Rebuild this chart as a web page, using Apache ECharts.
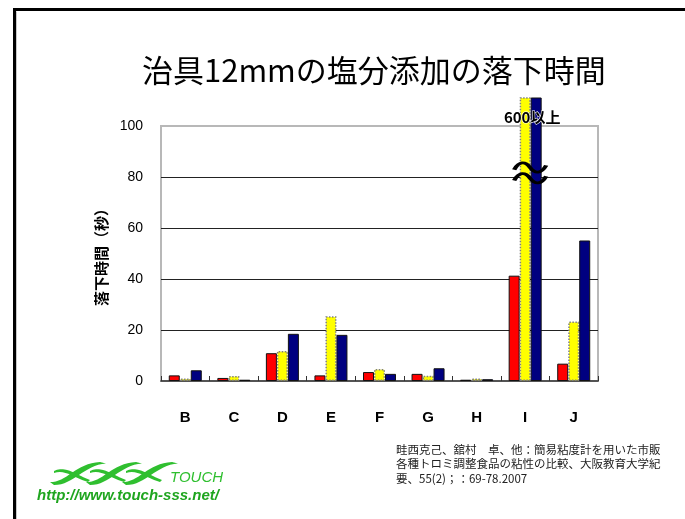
<!DOCTYPE html>
<html>
<head>
<meta charset="utf-8">
<script src="https://cdn.jsdelivr.net/npm/echarts@6/dist/echarts.min.js"></script>
<style>
  html, body { margin: 0; padding: 0; background: #fff; }
  #chart { width: 685px; height: 519px; }
</style>
</head>
<body>
<div id="chart"></div>
<script>
// Categories and measured drop times (seconds)
const categories = ['B', 'C', 'D', 'E', 'F', 'G', 'H', 'I', 'J'];
const redValues = [2.2, 1.2, 10.9, 2.2, 3.5, 2.8, 0.5, 41.3, 6.8];
const yellowValues = [1.0, 2.0, 11.8, 25.4, 4.7, 2.1, 1.0, 600, 23.3];
const navyValues = [4.2, 0.5, 18.5, 18.1, 2.8, 5.0, 0.7, 600, 55.1];
const yTicks = [0, 20, 40, 60, 80, 100];
const overflowLabel = '600以上';
const breakValue = 81.6;
const overflowLabelValue = 103.3;

const titleText = '治具12mmの塩分添加の落下時間';
const yAxisName = '落下時間（秒）';
const citationLines = [
  '畦西克己、舘村　卓、他：簡易粘度計を用いた市販',
  '各種トロミ調整食品の粘性の比較、大阪教育大学紀',
  '要、55(2)；：69-78.2007'
];
const siteUrl = 'http://www.touch-sss.net/';

const JP = '"Noto Sans CJK JP", "Liberation Sans", sans-serif';

// Plot geometry: the visible axis frame, plus a taller drawing area so tall bars rise above it
const plotLeft = 161, plotWidth = 437, plotTop = 126, plotBottom = 381, barTop = 98;
const yMax = yTicks[yTicks.length - 1];
const barAxisMax = yMax * (plotBottom - barTop) / (plotBottom - plotTop);

const chart = echarts.init(document.getElementById('chart'), null, { renderer: 'canvas' });

const barBase = { type: 'bar', xAxisIndex: 1, yAxisIndex: 1, barWidth: 11, barGap: '0%', clip: true };

// Cubic bezier sampled into polygon points
function cubic(p0, p1, p2, p3, n) {
  const pts = [];
  for (let i = 0; i <= n; i++) {
    const t = i / n, u = 1 - t;
    pts.push([
      u * u * u * p0[0] + 3 * u * u * t * p1[0] + 3 * u * t * t * p2[0] + t * t * t * p3[0],
      u * u * u * p0[1] + 3 * u * u * t * p1[1] + 3 * u * t * t * p2[1] + t * t * t * p3[1]
    ]);
  }
  return pts;
}

// Small logo swooshes
const logoGreen = '#2fbf2f';
const swooshes = [];
for (let i = 0; i < 3; i++) {
  const x0 = 50 + i * 36;
  const upper = cubic([x0, 482], [x0 + 16, 483], [x0 + 26, 463], [x0 + 50, 462], 16)
    .concat(cubic([x0 + 56, 463.5], [x0 + 34, 465], [x0 + 24, 485], [x0 + 4, 485], 16));
  swooshes.push({ type: 'polygon', shape: { points: upper }, style: { fill: logoGreen } });
  const lower = cubic([x0 + 4, 471], [x0 + 16, 465], [x0 + 28, 476], [x0 + 40, 480], 12)
    .concat(cubic([x0 + 38, 482], [x0 + 26, 479], [x0 + 16, 469], [x0 + 4, 473], 12));
  swooshes.push({ type: 'polygon', shape: { points: lower }, style: { fill: logoGreen } });
}

const option = {
  backgroundColor: '#fff',
  animation: false,
  title: {
    text: titleText,
    left: 137,
    top: 50,
    textStyle: { fontFamily: JP, fontSize: 31, fontWeight: 'normal', color: '#000' }
  },
  grid: [
    {
      left: plotLeft, width: plotWidth, top: plotTop, height: plotBottom - plotTop,
      show: true, borderColor: '#b8b8b8', borderWidth: 2, backgroundColor: 'transparent',
      outerBoundsMode: 'none'
    },
    {
      left: plotLeft, width: plotWidth, top: barTop, height: plotBottom - barTop,
      show: false, outerBoundsMode: 'none'
    }
  ],
  xAxis: [
    {
      type: 'category', gridIndex: 0, data: categories, boundaryGap: true,
      axisLine: { show: true, lineStyle: { color: '#333', width: 1.5 } },
      axisTick: { show: true, inside: true, length: 5, lineStyle: { color: '#333' } },
      axisLabel: { margin: 29, fontFamily: '"Liberation Sans", sans-serif', fontSize: 15, fontWeight: 'bold', color: '#000' }
    },
    {
      type: 'category', gridIndex: 1, data: categories, boundaryGap: true, show: false
    }
  ],
  yAxis: [
    {
      type: 'value', gridIndex: 0, min: yTicks[0], max: yMax, interval: yTicks[1] - yTicks[0],
      name: yAxisName, nameLocation: 'middle', nameRotate: 90, nameGap: 48,
      nameTextStyle: { fontFamily: JP, fontSize: 15, fontWeight: 'bold', color: '#000' },
      axisLine: { show: false }, axisTick: { show: false },
      axisLabel: { margin: 18, fontFamily: '"Liberation Sans", sans-serif', fontSize: 14, color: '#000' },
      splitLine: { show: true, lineStyle: { color: ['#b8b8b8', '#222', '#222', '#222', '#222', '#b8b8b8'], width: 1 } }
    },
    {
      type: 'value', gridIndex: 1, min: 0, max: barAxisMax, show: false, splitLine: { show: false }
    }
  ],
  series: [
    Object.assign({}, barBase, {
      name: 'red',
      data: redValues,
      itemStyle: { color: '#ff0000', borderColor: '#111', borderWidth: 1 }
    }),
    Object.assign({}, barBase, {
      name: 'yellow',
      data: yellowValues,
      itemStyle: { color: '#ffff00', borderColor: '#808080', borderWidth: 1.5, borderType: [1.5, 1.5] }
    }),
    Object.assign({}, barBase, {
      name: 'navy',
      data: navyValues,
      itemStyle: { color: '#000080', borderColor: '#111', borderWidth: 1 },
      markPoint: {
        silent: true,
        z: 20,
        data: [
          {
            // break mark, anchored on this series' bar and nudged onto the yellow/navy seam
            coord: ['I', breakValue],
            symbol: 'path://M0,8 C5,0 11,0 16,6 C21,12 27,12 32,4 M0,18 C5,10 11,10 16,16 C21,22 27,22 32,14',
            symbolSize: [32, 20],
            symbolOffset: [-6, 0],
            itemStyle: { color: 'none', borderColor: '#000', borderWidth: 3.5 },
            label: { show: false }
          },
          {
            coord: ['I', overflowLabelValue],
            symbol: 'circle',
            symbolSize: 1,
            symbolOffset: [-4, 0],
            itemStyle: { color: 'transparent' },
            label: {
              show: true, position: 'inside', formatter: overflowLabel,
              fontFamily: JP, fontSize: 15, fontWeight: 'bold', color: '#000',
              textBorderColor: '#fff', textBorderWidth: 1
            }
          }
        ]
      }
    })
  ],
  graphic: [
    // slide frame
    { type: 'line', shape: { x1: 13, y1: 9.5, x2: 685, y2: 9.5 }, style: { stroke: '#000', lineWidth: 3 } },
    { type: 'line', shape: { x1: 14.5, y1: 8, x2: 14.5, y2: 519 }, style: { stroke: '#000', lineWidth: 3 } },
    { type: 'line', shape: { x1: 16.5, y1: 11.5, x2: 16.5, y2: 519 }, style: { stroke: '#c8c8c8', lineWidth: 1 } },
    // citation
    {
      type: 'text', left: 396, top: 442,
      style: {
        text: citationLines.join('\n'),
        font: '11.5px "Noto Sans CJK JP", sans-serif',
        lineHeight: 14.5,
        fill: '#222'
      }
    },
    // logo
    ...swooshes,
    {
      type: 'text', left: 170, top: 470,
      style: { text: 'TOUCH', font: 'italic 15px "Liberation Sans", sans-serif', fill: logoGreen }
    },
    {
      type: 'text', left: 37, top: 488,
      style: { text: siteUrl, font: 'italic bold 15px "Liberation Sans", sans-serif', fill: '#1fa51f' }
    }
  ]
};

chart.setOption(option);
</script>
</body>
</html>
